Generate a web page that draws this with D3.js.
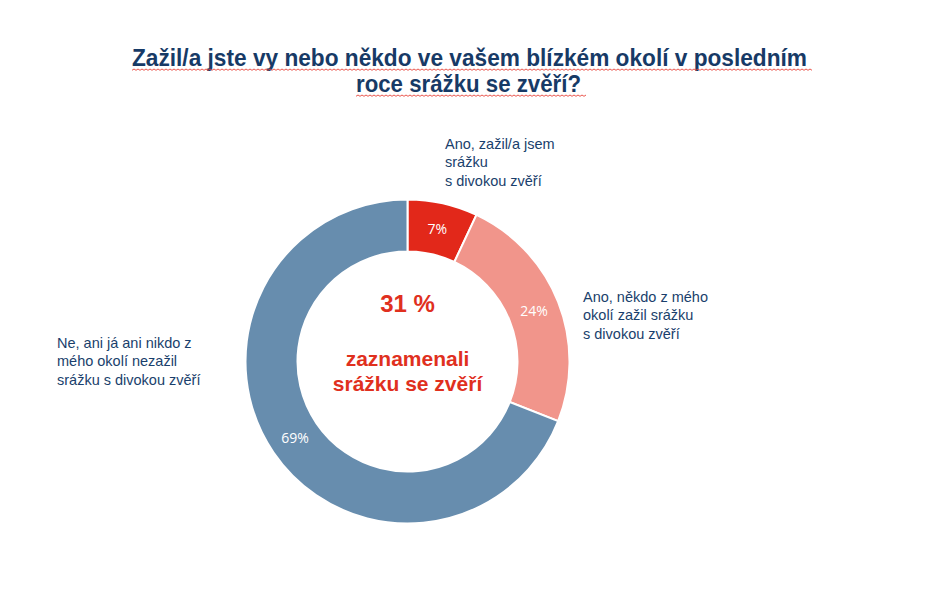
<!DOCTYPE html>
<html>
<head>
<meta charset="utf-8">
<script src="https://cdn.jsdelivr.net/npm/d3@7"></script>
<style>
  body { margin: 0; background: #fff; }
  svg { display: block; }
</style>
</head>
<body>
<div id="chart"></div>
<script>
//Chart data.
const titleLines = ["Zažil/a jste vy nebo někdo ve vašem blízkém okolí v posledním", "roce srážku se zvěří?"];
const categories = ["Ano, zažil/a jsem srážku s divokou zvěří",
                    "Ano, někdo z mého okolí zažil srážku s divokou zvěří",
                    "Ne, ani já ani nikdo z mého okolí nezažil srážku s divokou zvěří"];
const labelLines = [["Ano, zažil/a jsem", "srážku", "s divokou zvěří"],
                    ["Ano, někdo z mého", "okolí zažil srážku", "s divokou zvěří"],
                    ["Ne, ani já ani nikdo z", "mého okolí nezažil", "srážku s divokou zvěří"]];
const values = [7, 24, 69];
const centerValue = "31 %";
const centerLines = ["zaznamenali", "srážku se zvěří"];

//Dimensions and look.
let w = 934;
let h = 589;
let cx = 407.5, cy = 361.5;
let outerR = 162, innerR = 110;
const colors = ["#E2281A", "#F1958B", "#678DAE"];
const navy = "#1A3F6C";

const svg = d3.select("#chart")
              .append("svg")
              .attr("width", w)
              .attr("height", h);

//Title with the red spell-check squiggle underneath.
const titleSpec = [{x0: 132, x1: 807, y: 66}, {x0: 356, x1: 581, y: 92}];
titleLines.forEach((t, i) => {
  svg.append("text")
     .attr("x", titleSpec[i].x0)
     .attr("y", titleSpec[i].y)
     .attr("textLength", titleSpec[i].x1 - titleSpec[i].x0)
     .attr("lengthAdjust", "spacingAndGlyphs")
     .style("font-family", "'Liberation Sans Narrow', 'Arial Narrow', 'Liberation Sans', Arial, sans-serif")
     .style("font-weight", "bold")
     .style("font-size", "24px")
     .style("fill", "#173A66")
     .text(t);

  let pts = d3.range(titleSpec[i].x0, titleSpec[i].x1 + 6, 2)
              .map((x, k) => [x, titleSpec[i].y + 3 + (k % 2 ? 0 : 1.3)]);
  svg.append("path")
     .attr("d", d3.line()(pts))
     .attr("fill", "none")
     .attr("stroke", "#E8433A")
     .attr("stroke-width", 0.9);
});

//Donut.
const pie = d3.pie().sort(null).value(d => d);
const arc = d3.arc().innerRadius(innerR).outerRadius(outerR);
const arcs = pie(values);

const g = svg.append("g").attr("transform", "translate(" + cx + "," + cy + ")");

g.selectAll("path")
 .data(arcs)
 .enter()
 .append("path")
 .attr("d", arc)
 .attr("fill", (d, i) => colors[i])
 .attr("stroke", "#fff")
 .attr("stroke-width", 2);

g.selectAll("text.pct")
 .data(arcs)
 .enter()
 .append("text")
 .attr("class", "pct")
 .attr("x", d => arc.centroid(d)[0])
 .attr("y", d => arc.centroid(d)[1] + 5)
 .attr("text-anchor", "middle")
 .style("font-family", "'Open Sans', 'Noto Sans', sans-serif")
 .style("font-size", "14px")
 .style("fill", "#fff")
 .text(d => d.data + "%");

//Centre text.
g.append("text")
 .attr("x", 0)
 .attr("y", -50)
 .attr("text-anchor", "middle")
 .style("font-family", "'Liberation Sans', Arial, sans-serif")
 .style("font-weight", "bold")
 .style("font-size", "24px")
 .style("fill", "#E0301E")
 .text(centerValue);

centerLines.forEach((t, i) => {
  g.append("text")
   .attr("x", 0)
   .attr("y", 4 + i * 25)
   .attr("text-anchor", "middle")
   .style("font-family", "'Liberation Sans', Arial, sans-serif")
   .style("font-weight", "bold")
   .style("font-size", "21px")
   .style("fill", "#E0301E")
   .text(t);
});

//Category labels.
const labelPos = [{x: 445, y: 149}, {x: 583, y: 302}, {x: 57, y: 348}];
labelLines.forEach((lines, i) => {
  const t = svg.append("text")
               .attr("class", "cat")
               .attr("data-category", categories[i])
               .style("font-family", "'Liberation Sans', Arial, sans-serif")
               .style("font-size", "14.5px")
               .style("fill", navy);
  lines.forEach((line, k) => {
    t.append("tspan")
     .attr("x", labelPos[i].x)
     .attr("y", labelPos[i].y + k * 18.3)
     .text(line);
  });
});
</script>
</body>
</html>
